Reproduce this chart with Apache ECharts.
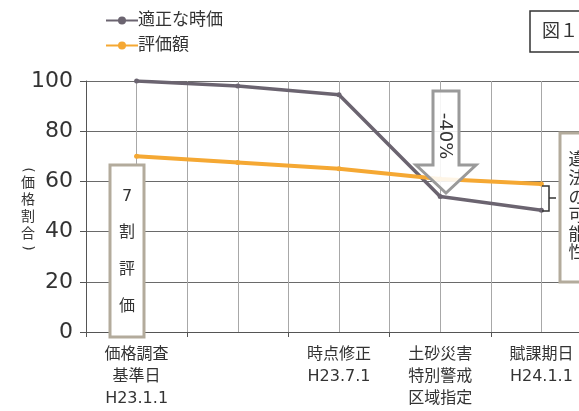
<!DOCTYPE html>
<html><head><meta charset="utf-8">
<script src="https://cdn.jsdelivr.net/npm/echarts@6/dist/echarts.min.js"></script>
<style>html,body{margin:0;padding:0;background:#fff;overflow:hidden}#c{width:600px;height:411px}</style>
</head><body><div id="c"></div>
<script>
const categories = ['価格調査\n基準日\nH23.1.1', '', '時点修正\nH23.7.1', '土砂災害\n特別警戒\n区域指定', '賦課期日\nH24.1.1'];
const fairValue = [100, 98, 94.5, 54, 48.5];
const assessed = [70, 67.5, 65, 61, 59];
const seriesNames = ['適正な時価', '評価額'];
const yMin = 0, yMax = 100, yStep = 20;

const JP = '"DejaVu Sans", "Noto Sans CJK JP", sans-serif';
const chart = echarts.init(document.getElementById('c'), null, {renderer: 'canvas'});
const boxStroke = '#b3ab9c';
function vtext(chars, x, ys, size, extra) {
  return chars.map((ch, i) => Object.assign({
    type: 'text', z: 102, x: x, y: ys[i],
    style: {text: ch, fontSize: size, fontFamily: JP, fill: '#333', align: 'center', verticalAlign: 'middle'}
  }, extra || {}));
}
chart.setOption({
  animation: false,
  backgroundColor: '#fff',
  grid: {left: 86, top: 81, width: 506, height: 251, containLabel: false},
  legend: {
    left: 100, top: 7, orient: 'vertical', itemGap: 8, itemWidth: 32, itemHeight: 10,
    textStyle: {fontSize: 17, fontFamily: JP, color: '#333', padding: [0, 0, 0, -5]},
    data: seriesNames
  },
  xAxis: [{
    type: 'category', data: categories, boundaryGap: true,
    axisLine: {lineStyle: {color: '#555', width: 1}},
    axisTick: {show: true, length: 5, lineStyle: {color: '#555'}},
    axisLabel: {interval: 0, fontSize: 16, lineHeight: 22, margin: 12, color: '#333', fontFamily: JP},
    splitLine: {show: false}
  }, {
    type: 'value', min: 0, max: 5, interval: 0.5, position: 'top',
    axisLine: {show: false}, axisTick: {show: false}, axisLabel: {show: false},
    splitLine: {show: true, lineStyle: {color: '#a8a8a8', width: 1}}
  }],
  yAxis: {
    type: 'value', min: yMin, max: yMax, interval: yStep,
    axisLine: {show: true, lineStyle: {color: '#555'}},
    axisTick: {show: true, length: 6, lineStyle: {color: '#555'}},
    axisLabel: {fontSize: 22, color: '#333', margin: 13, fontFamily: '"DejaVu Sans", sans-serif'},
    splitLine: {show: true, lineStyle: {color: '#6a6a6a', width: 1}}
  },
  series: [{
    name: seriesNames[0], type: 'line', data: fairValue, xAxisIndex: 0,
    symbol: 'circle', symbolSize: 5,
    lineStyle: {color: '#6b6470', width: 3.5}, itemStyle: {color: '#6b6470'}, z: 3
  }, {
    name: seriesNames[1], type: 'line', data: assessed, xAxisIndex: 0,
    symbol: 'circle', symbolSize: 5,
    lineStyle: {color: '#f5a833', width: 4}, itemStyle: {color: '#f5a833'}, z: 4
  }],
  graphic: [
    {type: 'text', z: 102, x: 28, y: 170, rotation: -Math.PI / 2,
     style: {text: '(', fontSize: 14, fontFamily: JP, fill: '#333', align: 'center', verticalAlign: 'middle'}},
    {type: 'text', z: 102, x: 28, y: 209,
     style: {text: '価\n格\n割\n合', fontSize: 14, lineHeight: 17, fontFamily: JP, fill: '#333', align: 'center', verticalAlign: 'middle'}},
    {type: 'text', z: 102, x: 28, y: 248, rotation: -Math.PI / 2,
     style: {text: ')', fontSize: 14, fontFamily: JP, fill: '#333', align: 'center', verticalAlign: 'middle'}},
    {type: 'rect', z: 100, shape: {x: 530, y: 11, width: 70, height: 41},
     style: {fill: '#fff', stroke: '#333', lineWidth: 1.5}},
    {type: 'text', z: 102, x: 542, y: 32,
     style: {text: '図１', fontSize: 18, fontFamily: JP, fill: '#333', align: 'left', verticalAlign: 'middle'}},
    {type: 'rect', z: 100, shape: {x: 110, y: 165, width: 34, height: 172},
     style: {fill: '#fff', stroke: boxStroke, lineWidth: 3}},
    ...vtext(['7', '割', '評', '価'], 127, [197, 233, 270, 307], 16),
    {type: 'polygon', z: 100,
     shape: {points: [[433, 91], [459, 91], [459, 165], [476, 165], [446, 193], [416, 165], [433, 165]]},
     style: {fill: 'rgba(255,255,255,0.88)', stroke: '#9a9a9a', lineWidth: 3}},
    {type: 'text', z: 102, x: 445, y: 136, rotation: -Math.PI / 2,
     style: {text: '-40%', fontSize: 18, fontFamily: '"DejaVu Sans", sans-serif', fill: '#333', align: 'center', verticalAlign: 'middle'}},
    {type: 'polyline', z: 101, shape: {points: [[542, 186], [549, 186], [549, 211], [542, 211]]},
     style: {fill: null, stroke: '#333', lineWidth: 1.5}},
    {type: 'line', z: 101, shape: {x1: 549, y1: 198, x2: 556, y2: 198},
     style: {stroke: '#333', lineWidth: 1.5}},
    {type: 'rect', z: 100, shape: {x: 560, y: 133, width: 40, height: 149},
     style: {fill: '#fff', stroke: boxStroke, lineWidth: 3}},
    ...vtext(['違', '法', 'の', '可', '能', '性'], 577, [161, 180, 199, 217, 236, 254], 17)
  ]
});
</script></body></html>
